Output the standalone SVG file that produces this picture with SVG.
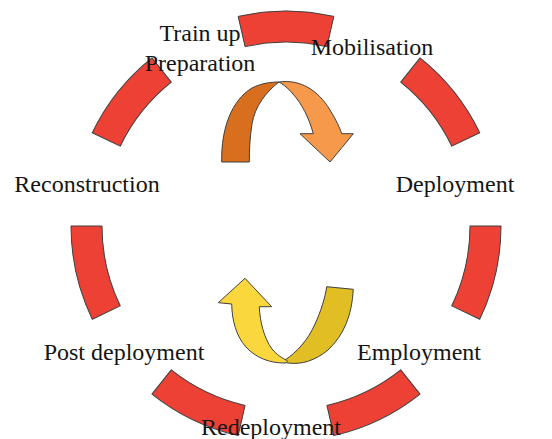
<svg xmlns="http://www.w3.org/2000/svg" width="552" height="439" viewBox="0 0 552 439">
  <style>
    .seg { fill: #ED4136; stroke: #3f3f3f; stroke-width: 1; stroke-linejoin: round; }
    .lbl { font-family: "Liberation Serif", "Times New Roman", serif; font-size: 24px; fill: #151515; text-anchor: middle; }
    .ar { stroke: #3f3f3f; stroke-width: 1; stroke-linejoin: round; }
  </style>
  <defs>
    <!-- one ring segment centred on 12 o'clock: outer R=215, inner r=184, spanning ±12.86° -->
    <path id="ringSeg" class="seg" d="M -47.85 -209.61 A 215 215 0 0 1 47.85 -209.61 L 40.94 -179.39 A 184 184 0 0 0 -40.94 -179.39 Z"/>
  </defs>

  <rect width="552" height="439" fill="#ffffff"/>

  <!-- cycle ring: seven segments around centre (286,226) -->
  <g id="ring" transform="translate(286 226)">
    <use href="#ringSeg" transform="rotate(0)"/>
    <use href="#ringSeg" transform="rotate(51.43)"/>
    <use href="#ringSeg" transform="rotate(102.86)"/>
    <use href="#ringSeg" transform="rotate(154.29)"/>
    <use href="#ringSeg" transform="rotate(205.71)"/>
    <use href="#ringSeg" transform="rotate(257.14)"/>
    <use href="#ringSeg" transform="rotate(308.57)"/>
  </g>

  <!-- phase labels -->
  <g id="node-trainup">
    <text class="lbl" x="200" y="41">Train up</text>
    <text class="lbl" x="200" y="71">Preparation</text>
  </g>
  <g id="node-mobilisation"><text class="lbl" x="372" y="55">Mobilisation</text></g>
  <g id="node-deployment"><text class="lbl" x="455" y="192">Deployment</text></g>
  <g id="node-employment"><text class="lbl" x="419" y="360">Employment</text></g>
  <g id="node-redeployment"><text class="lbl" x="271" y="435">Redeployment</text></g>
  <g id="node-postdeployment"><text class="lbl" x="124" y="360">Post deployment</text></g>
  <g id="node-reconstruction"><text class="lbl" x="87" y="192">Reconstruction</text></g>

  <!-- twisted U-turn arrows in the middle -->
  <g id="connectors">
    <g id="arrow-top">
      <path class="ar" fill="#D76F1F" d="M 221.7 162 C 221 128 232 100 252 88 C 262 83 271 82 279 82 C 266 92 255 106 252 124 C 250 136 249.3 150 249.3 162 Z"/>
      <path class="ar" fill="#F6994A" d="M 279 82 C 300 79 318 90 330 110 C 336 120 340 128 341.7 133.7 L 353.3 133.7 L 330 162 L 300 133.7 L 313.3 133.7 C 309 118 302 104 293 94 C 289 89 285 86 281.7 83.7 Z"/>
    </g>
    <g id="arrow-bottom">
      <path class="ar" fill="#E0BE24" d="M 326.7 286.7 L 353.3 289.3 C 352 315 344 335 328 350 C 316 360 302 365 288 363 C 284 362 282 361 285 360 C 297 352 308 340 315 324 C 321 311 325 298 326.7 286.7 Z"/>
      <path class="ar" fill="#FBD73E" d="M 245 278.3 L 271.7 306.7 L 259.3 306.7 C 260 322 264 338 272 349 C 277 355 282 358 287 360.5 C 288 362 287 363 284 363 C 270 363 256 358 246 347 C 236 336 232 320 231.7 304 L 218.3 302.7 Z"/>
    </g>
  </g>
</svg>
